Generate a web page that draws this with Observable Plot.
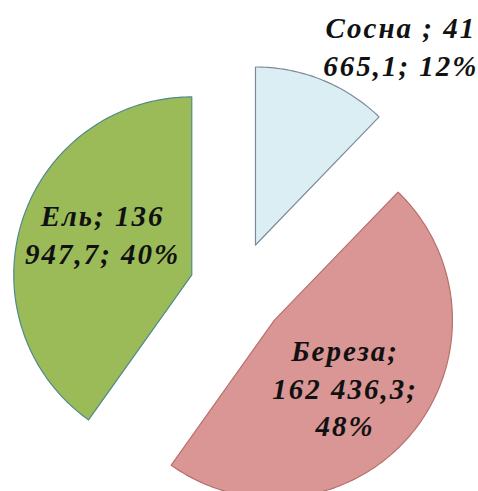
<!DOCTYPE html>
<html>
<head>
<meta charset="utf-8">
<script src="https://cdn.jsdelivr.net/npm/d3@7"></script>
<script src="https://cdn.jsdelivr.net/npm/@observablehq/plot@0.6"></script>
<style>
  html, body { margin: 0; padding: 0; background: #fff; }
  #chart { width: 478px; height: 491px; }
</style>
</head>
<body>
<div id="chart"></div>
<script>
// ---- data ----
const names = ["Сосна", "Береза", "Ель"];
const values = [41665.1, 162436.3, 136947.7];
const labels = ["Сосна ; 41\n665,1; 12%", "Береза;\n162 436,3;\n48%", "Ель; 136\n947,7; 40%"];

// ---- style ----
const fills = ["#dbeef4", "#d99694", "#9bbb59"];
const strokes = ["#7d8b99", "#b7706e", "#4f8a8b"];
const W = 478, H = 491, R = 178, CX = 237, CY = 289;
const explode = 48 / R;
const labelRadius = [1.39, 0.545, 0.553];
const labelAngleShift = [14, 3.6, 7.3]; // degrees

const pie = d3.pie().sort(null).value(d => d)(values);
const slices = pie.map((p, i) => {
  const mid = (p.startAngle + p.endAngle) / 2;
  const ox = explode * Math.sin(mid), oy = explode * Math.cos(mid);
  const pts = [{name: names[i], x: ox, y: oy}];
  const n = Math.max(8, Math.ceil((p.endAngle - p.startAngle) / (Math.PI / 180)));
  for (let k = 0; k <= n; k++) {
    const a = p.startAngle + (p.endAngle - p.startAngle) * k / n;
    pts.push({name: names[i], x: ox + Math.sin(a), y: oy + Math.cos(a)});
  }
  pts.push({name: names[i], x: ox, y: oy});
  const la = mid + labelAngleShift[i] * Math.PI / 180;
  const label = {
    text: labels[i],
    x: ox + labelRadius[i] * Math.sin(la),
    y: oy + labelRadius[i] * Math.cos(la)
  };
  return {pts, label};
});

const marks = [];
slices.forEach((s, i) => {
  marks.push(Plot.line(s.pts, {x: "x", y: "y", fill: fills[i], stroke: strokes[i], strokeWidth: 1.2, curve: "linear-closed"}));
});
marks.push(Plot.text(slices.map(s => s.label), {
  x: "x", y: "y", text: "text",
  fontSize: 29, fontWeight: "bold", fontStyle: "italic",
  fontFamily: "Liberation Serif",
  fill: "#111", lineHeight: 1.3, textAnchor: "middle", lineAnchor: "middle"
}));

const chart = Plot.plot({
  width: W, height: H, margin: 0,
  x: {domain: [-CX / R, (W - CX) / R], axis: null},
  y: {domain: [-(H - CY) / R, CY / R], axis: null},
  style: {background: "#fff", letterSpacing: "2px", overflow: "visible"},
  marks
});
document.getElementById("chart").appendChild(chart);
</script>
</body>
</html>
